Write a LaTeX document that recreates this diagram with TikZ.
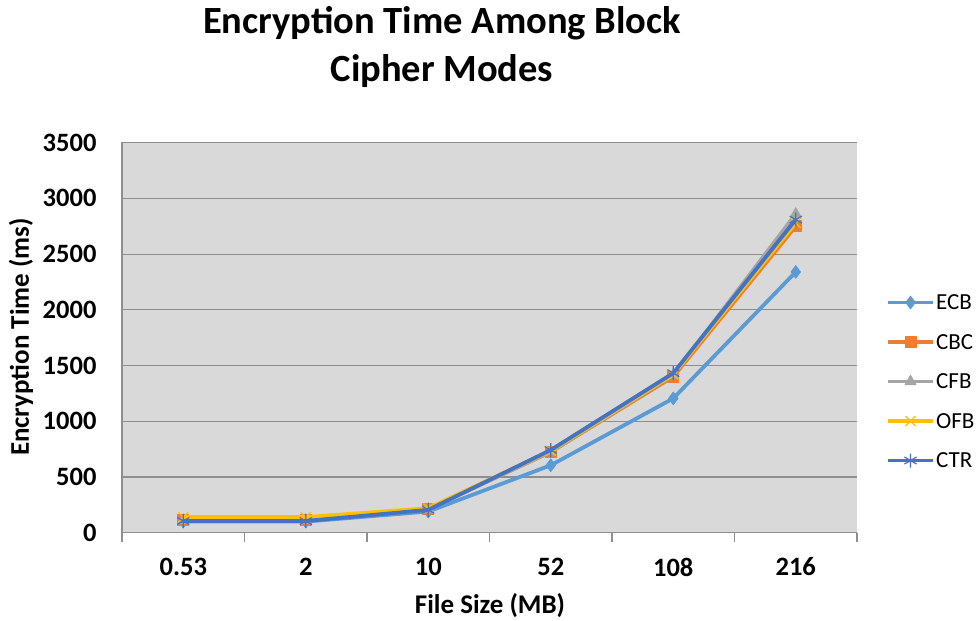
\documentclass[tikz,border=0pt]{standalone}
\usepackage{fontspec}
\setmainfont{Carlito}
\usetikzlibrary{plotmarks}
\definecolor{ecbcol}{HTML}{5B9BD5}
\definecolor{cbccol}{HTML}{ED7D31}
\definecolor{cfbcol}{HTML}{A5A5A5}
\definecolor{ofbcol}{HTML}{FFC000}
\definecolor{ctrcol}{HTML}{4472C4}
\definecolor{plotbg}{HTML}{D9D9D9}
\definecolor{gridcol}{HTML}{8E8E8E}
\begin{document}
\begin{tikzpicture}[x=1pt,y=-1pt,
  series/.style={line width=3.8pt,line join=round},
  ecbline/.style={series,draw=ecbcol,mark=diamond*,mark size=6.5pt,mark options={fill=ecbcol,draw=ecbcol,line width=0.6pt}},
  cbcline/.style={series,draw=cbccol,mark=square*,mark size=5.5pt,mark options={fill=cbccol,draw=cbccol,line width=0.6pt}},
  cfbline/.style={series,draw=cfbcol,mark=triangle*,mark size=6.5pt,mark options={fill=cfbcol,draw=cfbcol,line width=0.6pt}},
  ofbline/.style={series,draw=ofbcol,mark=x,mark size=7pt,mark options={draw=ofbcol,line width=1.2pt}},
  ctrline/.style={series,draw=ctrcol,mark=asterisk,mark size=7pt,mark options={draw=ctrcol,line width=1.2pt}},
  ticklab/.style={font=\bfseries\fontsize{26.5}{30}\selectfont},
  axlab/.style={font=\bfseries\fontsize{27}{31}\selectfont},
  legtext/.style={font=\fontsize{23}{27}\selectfont,anchor=west,inner sep=0pt},
  gridline/.style={draw=gridcol,line width=1.2pt}]
\useasboundingbox (0,0) rectangle (978,621);
% axis geometry: zero at y=532.7, 0.11143 px per ms
\def\yz{532.7}
\def\ys{0.11143}
% plot background and grid
\fill[plotbg] (122,142) rectangle (857,\yz);
\foreach \v in {500,1000,...,3500}
  \draw[gridline] (122,{\yz-\ys*\v}) -- (857,{\yz-\ys*\v});
\draw[gridline] (122,142) -- (122,542);
\draw[gridline] (122,\yz) -- (857,\yz);
\foreach \k in {1,...,6}
  \draw[gridline] ({122+122.5*\k},\yz) -- ({122+122.5*\k},542);
% y tick labels
\foreach \v in {0,500,...,3500}
  \node[ticklab,anchor=east] at (100,{\yz-\ys*\v}) {\v};
% x tick labels
\foreach \lab [count=\i] in {0.53,2,10,52,108,216}
  \node[ticklab] at ({122+122.5*(\i-0.5)},567) {\lab};
% axis titles
\node[axlab] (xt) at (490,606) {File Size (MB)};
\node[axlab,rotate=90] (yt) at (21,337) {Encryption Time (ms)};
% chart title
\node[font=\bfseries\fontsize{38.5}{48}\selectfont,align=center] (title) at (442,47)
  {Encryption Time Among Block\\Cipher Modes};
% data series
\draw[ecbline] plot coordinates {(183.25,{\yz-\ys*100}) (305.75,{\yz-\ys*100}) (428.25,{\yz-\ys*190}) (550.75,{\yz-\ys*605}) (673.25,{\yz-\ys*1205}) (795.75,{\yz-\ys*2340})};
\draw[cbcline] plot coordinates {(183.25,{\yz-\ys*112}) (305.75,{\yz-\ys*112}) (428.25,{\yz-\ys*212}) (550.75,{\yz-\ys*725}) (673.25,{\yz-\ys*1400}) (795.75,{\yz-\ys*2750})};
\draw[cfbline] plot coordinates {(183.25,{\yz-\ys*112}) (305.75,{\yz-\ys*112}) (428.25,{\yz-\ys*212}) (550.75,{\yz-\ys*725}) (673.25,{\yz-\ys*1415}) (795.75,{\yz-\ys*2860})};
\draw[ofbline] plot coordinates {(183.25,{\yz-\ys*140}) (305.75,{\yz-\ys*140}) (428.25,{\yz-\ys*220}) (550.75,{\yz-\ys*735}) (673.25,{\yz-\ys*1420}) (795.75,{\yz-\ys*2780})};
\draw[ctrline] plot coordinates {(183.25,{\yz-\ys*105}) (305.75,{\yz-\ys*105}) (428.25,{\yz-\ys*205}) (550.75,{\yz-\ys*742}) (673.25,{\yz-\ys*1432}) (795.75,{\yz-\ys*2810})};
% legend: a short line with the series mark in its middle
\foreach \name/\sty [count=\j] in {ECB/ecbline,CBC/cbcline,CFB/cfbline,OFB/ofbline,CTR/ctrline}{
  \draw[\sty,mark=none] (888,{263+39.5*\j}) -- (933,{263+39.5*\j});
  \draw[\sty] plot coordinates {(910.5,{263+39.5*\j})};
  \node[legtext] (leg\j) at (936,{263+39.5*\j}) {\name};
}
\end{tikzpicture}
\end{document}
